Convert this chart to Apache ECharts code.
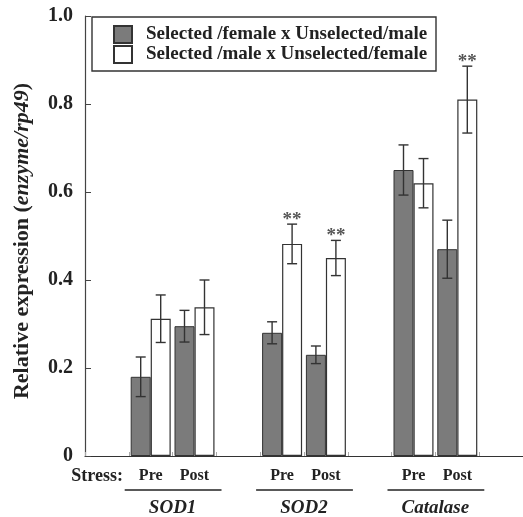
<!DOCTYPE html>
<html><head><meta charset="utf-8">
<script src="https://cdn.jsdelivr.net/npm/echarts@6/dist/echarts.min.js"></script>
<style>html,body{margin:0;padding:0;background:#fff}#c{width:523px;height:517px}</style>
</head><body><div id="c"></div>
<script>
// Data
const categories = ['', 'Pre', 'Post', '', 'Pre', 'Post', '', 'Pre', 'Post', ''];
const genes = ['SOD1', 'SOD2', 'Catalase'];
const geneSlots = [[1, 2], [4, 5], [7, 8]];
const seriesNames = ['Selected /female x Unselected/male', 'Selected /male x Unselected/female'];
const femaleSel = [null, 0.18, 0.295, null, 0.28, 0.23, null, 0.65, 0.47, null];
const femaleErr = [null, 0.045, 0.036, null, 0.025, 0.02, null, 0.057, 0.066, null];
const maleSel = [null, 0.312, 0.338, null, 0.482, 0.45, null, 0.62, 0.81, null];
const maleErr = [null, 0.054, 0.062, null, 0.045, 0.04, null, 0.056, 0.076, null];
const maleSig = ['', '', '', '', '**', '**', '', '', '**', ''];
const yTicks = [0, 0.2, 0.4, 0.6, 0.8, 1.0];

const FONT = '"Liberation Serif", "Times New Roman", serif';
const chart = echarts.init(document.getElementById('c'));

function errSeries(vals, errs, sig, offset) {
  const data = [];
  for (let i = 0; i < categories.length; i++) {
    if (vals[i] != null) data.push([i, vals[i], errs[i], sig ? sig[i] : '']);
  }
  return {
    type: 'custom', z: 5, silent: true,
    data: data,
    renderItem: function (params, api) {
      const i = api.value(0), v = api.value(1), e = api.value(2);
      const s = data[params.dataIndex][3];
      const top = api.coord([i, v + e]);
      const bot = api.coord([i, v - e]);
      const x = top[0] + offset;
      const cap = 5;
      const st = { stroke: '#333', lineWidth: 1.4 };
      const children = [
        { type: 'line', shape: { x1: x, y1: top[1], x2: x, y2: bot[1] }, style: st },
        { type: 'line', shape: { x1: x - cap, y1: top[1], x2: x + cap, y2: top[1] }, style: st },
        { type: 'line', shape: { x1: x - cap, y1: bot[1], x2: x + cap, y2: bot[1] }, style: st }
      ];
      if (s) {
        children.push({ type: 'text', style: { text: s, x: x, y: top[1] - 4, align: 'center', verticalAlign: 'middle',
          font: 'bold 19px ' + FONT, fill: '#555' } });
      }
      return { type: 'group', children: children };
    }
  };
}

chart.setOption({
  animation: false,
  grid: { left: 85, right: 0, top: 16, bottom: 61 },
  xAxis: {
    type: 'category', data: categories,
    axisLine: { lineStyle: { color: '#333', width: 1.2 } },
    axisTick: { show: true, inside: true, length: 4, interval: 0, lineStyle: { color: '#aaa' } },
    axisLabel: { interval: 0, margin: 12, color: '#222', fontFamily: FONT, fontWeight: 'bold', fontSize: 16 }
  },
  yAxis: {
    type: 'value', min: 0, max: 1, interval: 0.2,
    splitLine: { show: false },
    axisLine: { show: true, lineStyle: { color: '#444', width: 1.2 } },
    axisTick: { show: true, inside: true, length: 6, lineStyle: { color: '#444' } },
    axisLabel: { margin: 12, color: '#222', fontFamily: FONT, fontWeight: 'bold', fontSize: 20,
      formatter: function (v) { return v === 0 ? '0' : v.toFixed(1); } },
    name: '{a|Relative expression (}{b|enzyme/rp49}{a|)}',
    nameLocation: 'middle', nameGap: 52, nameRotate: 90,
    nameTextStyle: { padding: [0, 10, 0, 0], rich: {
      a: { fontFamily: FONT, fontWeight: 'bold', fontSize: 22, color: '#222' },
      b: { fontFamily: FONT, fontWeight: 'bold', fontStyle: 'italic', fontSize: 22, color: '#222' } } }
  },
  legend: {
    orient: 'vertical', left: 113, top: 25, padding: 0, itemGap: 1,
    itemWidth: 18, itemHeight: 17, icon: 'rect',
    data: seriesNames,
    textStyle: { fontFamily: FONT, fontWeight: 'bold', fontSize: 19, lineHeight: 19, color: '#222', padding: [0, 0, 0, 9] }
  },
  series: [
    { name: seriesNames[0], type: 'bar', data: femaleSel, barWidth: 20, barGap: '0%',
      itemStyle: { color: '#7b7b7b', borderColor: '#333', borderWidth: 1 } },
    { name: seriesNames[1], type: 'bar', data: maleSel, barWidth: 20, barGap: '0%',
      itemStyle: { color: '#fff', borderColor: '#333', borderWidth: 1.2 } },
    errSeries(femaleSel, femaleErr, null, -10),
    errSeries(maleSel, maleErr, maleSig, 10)
  ]
});

// Annotation graphics positioned via the axis scale
const g = [];
const y0 = chart.convertToPixel({ yAxisIndex: 0 }, 0);
const y1 = chart.convertToPixel({ yAxisIndex: 0 }, 1);
const xl = chart.convertToPixel({ xAxisIndex: 0 }, 0);
g.push({ type: 'rect', shape: { x: 92, y: y1 + 1, width: 344, height: 54 },
  style: { fill: 'none', stroke: '#333', lineWidth: 1.4 }, z: 10 });
g.push({ type: 'text', style: { text: 'Stress:', x: xl + 16, y: y0 + 20, align: 'right', verticalAlign: 'middle',
  font: 'bold 18px ' + FONT, fill: '#222' } });
geneSlots.forEach(function (sl, k) {
  const a = chart.convertToPixel({ xAxisIndex: 0 }, sl[0]);
  const b = chart.convertToPixel({ xAxisIndex: 0 }, sl[1]);
  g.push({ type: 'line', shape: { x1: a - 26, y1: y0 + 34, x2: b + 27, y2: y0 + 34 },
    style: { stroke: '#222', lineWidth: 1.5 } });
  g.push({ type: 'text', style: { text: genes[k], x: (a + b) / 2, y: y0 + 52, align: 'center', verticalAlign: 'middle',
    font: 'italic bold 19px ' + FONT, fill: '#222' } });
});
chart.setOption({ graphic: g });
</script>
</body></html>
